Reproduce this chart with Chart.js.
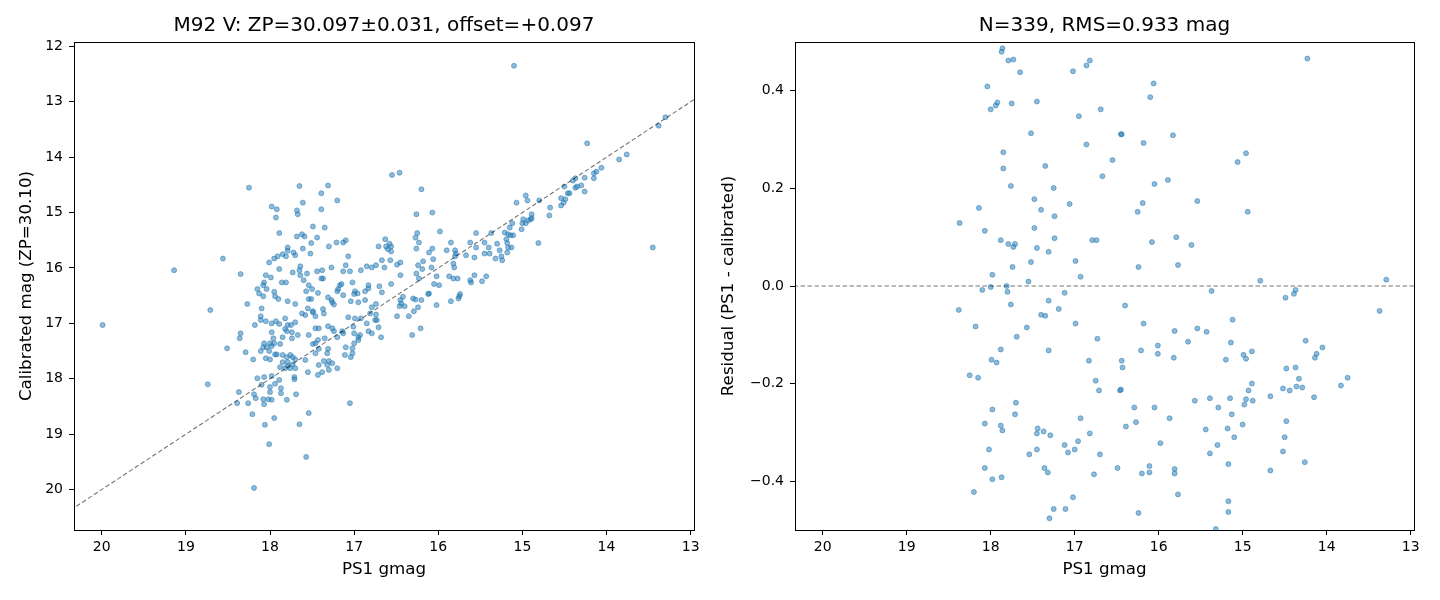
<!DOCTYPE html>
<html lang="en">
<head>
    <meta charset="UTF-8">
    <title>M92 V zero point</title>
    <script src="https://cdn.jsdelivr.net/npm/chart.js"></script>

    <style>
        body {
            margin: 0;
            background-color: #ffffff;
        }
        #wrap {
            position: relative;
            width: 1440px;
            height: 600px;
        }
        .panel {
            position: absolute;
            top: 0;
            width: 720px;
            height: 600px;
        }
        #left { left: 0; }
        #right { left: 720px; }
    </style>
</head>
<body>
<div id="wrap">
    <div class="panel" id="left"><canvas id="calib" width="720" height="600"></canvas></div>
    <div class="panel" id="right"><canvas id="resid" width="720" height="600"></canvas></div>
</div>

<script>
    // left panel: PS1 gmag vs calibrated mag
    const calGmag = [
        18.25,17.65,17.61,17.98,17.92,17.93,17.68,17.67,17.49,17.89,
        17.68,17.62,17.59,17.51,17.61,17.79,17.79,17.85,17.81,17.72,
        17.70,17.52,17.91,17.95,18.01,18.56,19.14,18.35,17.64,17.65,
        17.73,17.56,17.64,17.60,17.89,18.05,17.99,18.07,18.08,18.15,
        18.04,17.86,17.81,17.54,17.57,17.50,18.13,18.08,17.95,17.94,
        17.90,17.79,17.70,17.54,17.51,17.55,18.27,18.71,18.10,17.62,
        17.58,17.49,19.99,18.11,18.05,18.11,18.18,17.98,17.93,17.89,
        17.82,17.70,17.75,17.79,17.82,17.80,17.74,17.98,17.67,17.54,
        17.85,17.96,18.35,18.36,18.51,18.29,18.20,18.11,18.07,18.08,
        18.01,18.04,17.98,18.00,17.95,18.05,18.00,17.94,17.92,17.88,
        17.88,17.74,17.85,17.80,17.76,17.73,17.70,17.79,17.73,17.82,
        17.76,17.70,17.85,17.79,18.15,18.07,17.98,17.89,17.94,18.00,
        18.10,18.00,17.87,17.87,17.71,17.71,18.74,18.37,18.39,18.26,
        18.19,18.17,18.08,18.02,17.98,18.07,17.80,17.69,18.21,17.95,
        18.06,17.65,17.54,18.01,17.57,18.19,17.05,16.55,16.46,17.31,
        17.39,17.20,17.39,16.20,16.26,16.07,17.35,17.44,17.21,17.13,
        17.10,17.30,17.07,16.63,16.58,16.56,16.62,16.60,16.56,16.71,
        16.25,16.27,16.23,16.26,16.11,16.07,15.98,15.85,15.90,15.80,
        15.79,15.80,15.67,15.57,15.55,15.62,15.55,15.45,15.40,15.45,
        15.39,15.37,15.30,15.27,15.32,16.67,16.57,16.45,16.49,16.64,
        16.45,16.74,16.79,16.85,16.92,17.10,17.13,17.05,17.27,17.38,
        17.44,17.37,17.39,17.02,17.15,17.19,16.70,16.83,16.83,16.87,
        16.67,16.56,16.26,16.19,16.23,16.18,16.24,16.06,16.08,16.02,
        15.99,16.05,15.87,15.82,15.77,15.82,15.81,15.62,15.61,15.57,
        15.48,15.43,16.02,15.85,15.76,15.75,15.74,16.12,16.11,16.30,
        16.27,16.20,16.42,16.45,16.44,16.40,16.46,16.29,16.24,16.49,
        16.35,16.21,16.31,16.74,16.79,16.81,16.74,16.75,16.73,16.68,
        16.85,16.83,16.79,16.71,16.99,17.00,16.96,17.04,16.95,16.87,
        16.92,16.99,17.07,17.01,17.00,16.93,16.95,17.13,17.17,17.20,
        17.27,17.26,17.31,17.24,17.37,17.36,17.49,17.46,17.43,17.31,
        17.26,17.24,17.14,17.13,17.42,17.46,17.46,17.43,17.35,17.49,
        17.42,17.31,17.20,17.10,17.02,17.02,17.11,17.04,17.46,17.32,
        17.58,17.36,17.30,17.26,17.42,17.55,17.43,17.38,17.32,17.20,
        17.30,17.00,16.95,15.10,13.30,13.38,14.23,13.85,13.76,14.06,
        14.12,14.15,14.15,14.26,14.40,14.37,14.50,14.37,14.35,14.30,
        14.26,14.46,14.44,14.54,14.49,14.51,14.54,13.45,14.80,14.96,
        14.94,15.07,14.67,14.68,14.81,14.89,14.90,14.99,15.00,14.96,
        14.93,14.89,15.01,15.12,15.15,15.11,15.14,15.21,15.17,15.19,
        15.18,15.17,15.13,15.18,15.25,15.24
    ];
    const calMag = [
        14.55,14.52,14.82,14.89,14.94,15.09,14.96,15.03,15.25,15.37,
        15.43,15.39,15.43,15.55,15.65,15.63,15.69,15.75,15.79,15.72,
        15.77,15.74,15.79,15.83,15.90,15.83,16.04,16.11,15.97,16.04,
        16.08,16.10,16.13,16.22,16.02,16.13,16.17,16.26,16.31,16.38,
        16.38,16.26,16.26,16.31,16.42,16.38,16.46,16.51,16.43,16.51,
        16.56,16.60,16.65,16.56,16.56,16.73,16.65,16.76,16.73,16.82,
        16.85,16.80,17.03,16.87,16.96,16.94,17.03,17.00,16.96,17.01,
        16.91,16.98,17.03,17.03,17.10,17.14,17.16,17.16,17.21,17.21,
        17.25,17.27,17.18,17.27,17.45,17.52,17.65,17.50,17.36,17.43,
        17.50,17.43,17.41,17.36,17.36,17.63,17.65,17.56,17.56,17.37,
        17.79,17.27,17.57,17.61,17.57,17.61,17.65,17.70,17.74,17.81,
        17.81,17.81,17.70,17.77,17.99,17.97,17.95,18.02,18.09,18.15,
        18.11,18.24,18.17,18.26,17.97,18.01,18.10,18.24,18.44,18.44,
        18.28,18.35,18.37,18.37,18.38,18.46,18.38,18.28,18.64,18.71,
        18.83,18.82,18.62,19.18,19.41,19.97,18.44,14.32,14.28,14.51,
        14.65,14.78,14.94,14.58,15.03,15.00,15.27,15.45,15.54,15.54,
        15.50,15.61,15.79,15.48,15.56,15.61,15.61,15.66,15.70,15.61,
        15.37,15.45,15.54,15.65,15.72,15.65,15.34,15.54,15.68,15.68,
        15.74,15.79,15.77,15.81,15.63,15.54,15.37,15.54,15.63,15.74,
        15.74,15.37,15.56,15.68,15.83,15.86,15.86,15.90,15.94,15.99,
        16.13,15.95,15.99,15.97,16.04,15.95,16.06,16.06,15.99,16.04,
        16.06,16.19,16.19,16.26,16.29,16.38,16.33,16.31,16.37,16.42,
        16.44,16.29,16.10,16.02,16.19,15.88,15.95,15.84,15.99,16.15,
        16.31,16.29,16.15,16.19,16.19,15.92,15.99,16.22,16.26,16.13,
        16.24,16.15,16.67,16.60,16.55,16.51,16.47,16.47,16.46,16.55,
        16.57,16.58,16.52,16.58,16.64,16.69,16.69,16.78,16.71,16.87,
        16.87,17.09,17.21,16.65,16.71,16.82,16.84,16.94,16.94,17.25,
        17.00,17.14,17.18,17.07,16.42,16.47,16.46,16.60,16.62,16.58,
        16.91,16.91,16.89,17.06,17.18,17.21,17.25,16.49,16.31,16.42,
        16.58,16.62,16.53,16.66,16.74,16.82,16.78,16.87,16.45,17.05,
        17.09,17.14,17.14,17.18,17.09,17.09,17.36,17.30,17.27,17.37,
        17.46,17.46,17.25,17.43,17.45,17.54,17.57,17.61,17.54,17.54,
        17.66,17.68,17.68,17.72,17.75,17.88,17.93,17.88,17.75,17.81,
        17.84,17.36,17.30,12.35,13.28,13.43,13.75,14.04,13.95,14.19,
        14.26,14.29,14.38,14.37,14.42,14.38,14.53,14.55,14.53,14.51,
        14.62,14.65,14.65,14.74,14.76,14.82,14.87,15.63,14.78,14.69,
        14.78,14.82,14.91,15.05,15.55,15.03,15.12,15.12,15.19,15.19,
        15.14,15.10,15.30,15.19,15.27,15.41,15.41,15.36,15.39,15.48,
        15.55,15.63,15.63,15.72,15.79,15.86
    ];

    // right panel: PS1 gmag vs residual
    const resGmag = [
        17.86,17.87,17.79,17.73,17.65,18.04,17.92,17.94,18.00,17.75,
        17.45,17.02,16.86,16.82,16.95,16.69,16.45,17.52,16.86,17.85,
        16.55,17.85,17.35,16.67,17.76,17.25,17.48,17.06,18.14,17.40,
        17.24,18.37,18.07,17.48,17.88,17.79,17.71,17.73,17.24,17.45,
        17.31,16.79,16.74,17.52,17.74,16.99,17.98,16.93,17.55,
        18.10,18.00,17.81,17.80,17.12,18.38,17.76,17.31,17.19,17.40,
        17.35,18.18,17.57,16.99,17.69,16.73,17.88,17.31,17.99,17.93,
        16.83,18.25,18.15,16.75,16.71,16.46,17.98,17.70,17.71,18.07,
        17.88,17.86,17.44,17.45,17.37,17.29,16.93,16.82,18.02,17.54,
        17.45,17.12,17.08,17.00,16.96,16.70,18.07,17.98,17.87,17.36,
        17.32,16.77,16.49,18.20,17.02,17.25,17.11,17.30,
        16.06,16.10,16.44,16.18,15.83,15.06,14.96,16.05,15.89,16.19,
        16.25,15.54,14.94,16.08,15.79,15.61,16.24,15.77,14.79,15.37,
        16.40,14.49,16.18,15.81,15.54,15.43,15.12,15.65,15.14,16.01,
        16.01,16.21,15.82,16.44,16.43,15.20,14.99,14.96,14.89,14.48,
        16.45,14.89,14.93,14.96,14.98,14.88,14.52,14.44,14.67,15.57,
        15.39,15.15,15.29,15.13,16.29,16.05,15.87,16.39,16.27,15.44,
        15.18,15.00,14.48,15.10,15.98,15.30,15.39,14.50,14.52,16.20,
        16.11,16.11,15.81,15.81,15.17,14.67,15.77,15.17,15.17,16.24,
        15.32,
        14.23,13.29,14.37,14.39,13.37,14.25,14.05,14.12,14.14,14.37,
        14.33,14.36,14.29,14.15,13.83,13.75,14.26
    ];
    const resVal = [
        0.487,0.480,0.462,0.464,0.438,0.409,0.376,0.370,0.362,0.374,
        0.378,0.440,0.452,0.462,0.348,0.362,0.311,0.313,0.290,0.274,
        0.258,0.241,0.246,0.225,0.205,0.201,0.178,0.168,0.160,0.156,
        0.143,0.129,0.113,0.119,0.094,0.086,0.086,0.080,0.098,0.078,
        0.070,0.094,0.094,0.049,0.039,0.051,0.023,0.019,0.009,
        -0.008,-0.002,0.000,-0.012,-0.014,-0.049,-0.038,-0.030,-0.047,-0.059,
        -0.061,-0.083,-0.085,-0.077,-0.104,-0.108,-0.130,-0.132,-0.151,-0.157,
        -0.153,-0.183,-0.188,-0.194,-0.214,-0.214,-0.253,-0.239,-0.263,-0.282,
        -0.286,-0.296,-0.292,-0.302,-0.298,-0.306,-0.271,-0.302,-0.335,-0.345,
        -0.335,-0.326,-0.341,-0.335,-0.318,-0.345,-0.373,-0.396,-0.392,-0.373,
        -0.382,-0.386,-0.373,-0.422,-0.433,-0.457,-0.457,-0.476,
        0.415,0.387,0.311,0.293,0.309,0.254,0.272,0.209,0.217,0.170,
        0.152,0.174,0.152,0.090,0.100,0.084,0.039,0.043,0.011,-0.010,
        -0.040,-0.024,-0.077,-0.092,-0.087,-0.094,-0.069,-0.114,-0.116,-0.122,
        -0.139,-0.132,-0.147,-0.153,-0.167,-0.151,-0.141,-0.149,-0.134,-0.169,
        -0.212,-0.200,-0.214,-0.232,-0.243,-0.235,-0.210,-0.214,-0.226,-0.235,
        -0.230,-0.230,-0.249,-0.263,-0.249,-0.249,-0.271,-0.288,-0.279,-0.294,
        -0.292,-0.284,-0.277,-0.310,-0.322,-0.326,-0.343,-0.310,-0.339,-0.384,
        -0.369,-0.382,-0.375,-0.384,-0.365,-0.378,-0.427,-0.441,-0.463,-0.465,
        -0.498,
        0.466,0.013,-0.008,-0.016,-0.051,-0.112,-0.126,-0.139,-0.147,-0.167,
        -0.190,-0.206,-0.208,-0.228,-0.204,-0.188,-0.361
    ];

    // axis limits and ticks (both x axes run bright to faint, right to left)
    const gmagRange = [12.96, 20.33];
    const magRange = [11.92, 20.73];
    const resRange = [-0.5, 0.5];
    const gmagTicks = [20, 19, 18, 17, 16, 15, 14, 13];
    const magTicks = [12, 13, 14, 15, 16, 17, 18, 19, 20];
    const resTicks = [-0.4, -0.2, 0, 0.2, 0.4];

    Chart.defaults.font.family = "'DejaVu Sans', sans-serif";
    Chart.defaults.color = '#000000';

    const dotColor = 'rgba(31, 119, 180, 0.5)';
    const guideColor = 'rgba(0, 0, 0, 0.55)';

    // box around the plot area like matplotlib spines
    const frame = {
        id: 'frame',
        afterDraw(chart) {
            const a = chart.chartArea;
            const c = chart.ctx;
            c.save();
            c.strokeStyle = '#000000';
            c.lineWidth = 1;
            c.strokeRect(Math.round(a.left) + 0.5, Math.round(a.top) + 0.5,
                Math.round(a.right - a.left), Math.round(a.bottom - a.top));
            c.restore();
        }
    };

    function pairs(xs, ys) {
        return xs.map((x, i) => ({ x: x, y: ys[i] }));
    }

    function minusSign(v) {
        return (v < 0 ? '\u2212' : '') + Math.abs(v).toFixed(1);
    }

    function makeAxis(range, ticks, label, isX, yWidth, labelFont, labelPad, fmt) {
        return {
            type: 'linear',
            min: range[0],
            max: range[1],
            reverse: isX || range === magRange,
            afterBuildTicks: s => { s.ticks = ticks.map(v => ({ value: v })); },
            afterFit: s => {
                if (isX) {
                    s.height = 70;
                    s.paddingLeft = 0;
                    s.paddingRight = 0;
                } else {
                    s.width = yWidth;
                    s.paddingTop = 0;
                    s.paddingBottom = 0;
                }
            },
            grid: { drawOnChartArea: false, drawTicks: true, tickLength: 5, color: '#000000' },
            border: { display: false },
            ticks: {
                font: { size: 14 },
                padding: isX ? 4 : 6,
                maxRotation: 0,
                autoSkip: false,
                callback: fmt || (v => String(v))
            },
            title: { display: true, text: label, font: labelFont, padding: labelPad }
        };
    }

    function makeChart(id, title, points, guide, yAxis) {
        return new Chart(document.getElementById(id), {
            type: 'scatter',
            data: {
                datasets: [
                    {
                        type: 'line',
                        data: guide,
                        borderColor: guideColor,
                        borderWidth: 1.1,
                        borderDash: [4.5, 2.5],
                        pointRadius: 0,
                        fill: false
                    },
                    {
                        data: points,
                        backgroundColor: dotColor,
                        borderColor: dotColor,
                        borderWidth: 1,
                        pointRadius: 2.5
                    }
                ]
            },
            options: {
                responsive: false,
                animation: false,
                devicePixelRatio: 1,
                layout: { padding: { left: 0, right: 26, top: 0, bottom: 0 } },
                plugins: {
                    legend: { display: false },
                    tooltip: { enabled: false },
                    title: {
                        display: true,
                        text: title,
                        fullSize: false,
                        color: '#000000',
                        font: { size: 20, weight: 'normal', lineHeight: 1.2 },
                        padding: { top: 14, bottom: 4 }
                    }
                },
                scales: {
                    x: makeAxis(gmagRange, gmagTicks, 'PS1 gmag', true, 0,
                        { size: 16.7, lineHeight: 1.2 }, { top: 0, bottom: 20 }),
                    y: yAxis
                }
            },
            plugins: [frame]
        });
    }

    makeChart('calib', 'M92 V: ZP=30.097\u00b10.031, offset=+0.097',
        pairs(calGmag, calMag),
        [{ x: gmagRange[0], y: gmagRange[0] }, { x: gmagRange[1], y: gmagRange[1] }],
        makeAxis(magRange, magTicks, 'Calibrated mag (ZP=30.10)', false, 74,
            { size: 16.7, lineHeight: 1.2 }, { top: 17, bottom: 0 }));

    makeChart('resid', 'N=339, RMS=0.933 mag',
        pairs(resGmag, resVal),
        [{ x: gmagRange[0], y: 0 }, { x: gmagRange[1], y: 0 }],
        makeAxis(resRange, resTicks, 'Residual (PS1 - calibrated)', false, 75,
            { size: 16.7, lineHeight: 1 }, { top: 0, bottom: 0 }, minusSign));
</script>
</body>
</html>
